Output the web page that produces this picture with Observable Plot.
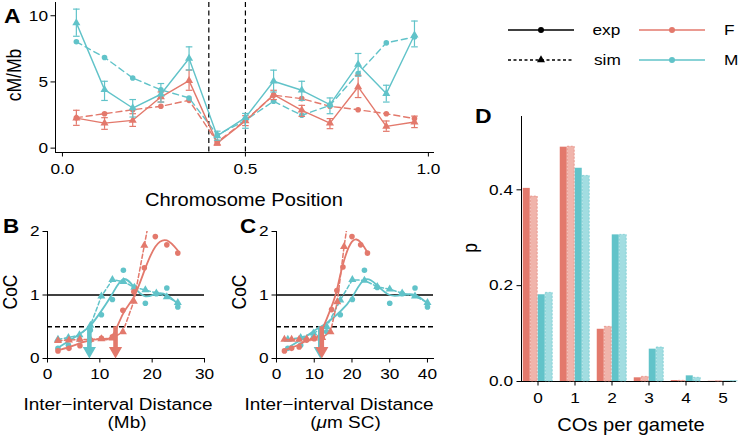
<!DOCTYPE html>
<html><head><meta charset="utf-8">
<script src="https://cdn.jsdelivr.net/npm/d3@7"></script>
<script src="https://cdn.jsdelivr.net/npm/@observablehq/plot@0.6"></script>
<style>
body{margin:0;background:#fff}
#root{position:relative;width:742px;height:439px;overflow:hidden;background:#fff}
#root svg{position:absolute;left:0;top:0}
</style>
</head><body><div id="root"></div>
<script>
// ---------- colours / type ----------
const RED = "#E3796C", CYAN = "#61C3C9", RED_L = "#F0B4AB", CYAN_L = "#A2DDE1";
const FONT = "'Liberation Sans', Arial, Helvetica, sans-serif";
const S = 1.15; // horizontal stretch of the original figure's text

// ---------- Panel A: recombination rate along the chromosome ----------
const posA = [0.038,0.115,0.192,0.269,0.346,0.423,0.5,0.577,0.654,0.731,0.808,0.885,0.962];
const A_M_exp    = [9.46,4.42,3.03,4.07,6.77,0.92,2.30,5.05,4.37,3.29,6.32,4.12,8.54];
const A_M_exp_lo = [8.45,3.60,2.35,3.48,5.90,0.60,1.50,4.24,3.61,2.60,5.43,3.48,7.65];
const A_M_exp_hi = [10.5,5.05,3.67,4.88,7.65,1.28,2.62,5.89,5.05,3.79,7.15,4.75,9.60];
const A_F_exp    = [2.27,1.89,2.10,3.86,5.10,0.38,2.05,4.04,2.86,1.89,4.62,1.64,1.97];
const A_F_exp_lo = [1.72,1.42,1.64,3.48,4.37,0.22,1.70,3.67,2.40,1.47,3.82,1.27,1.55];
const A_F_exp_hi = [2.86,2.30,2.60,4.24,5.90,0.55,2.45,4.37,3.23,2.23,5.50,2.05,2.42];
const A_M_sim    = [8.03,6.85,5.30,4.40,3.79,1.00,2.10,3.54,2.48,3.23,5.64,7.95,8.40];
const A_F_sim    = [2.30,2.60,2.90,3.16,3.61,0.45,2.10,4.00,3.74,3.16,2.90,2.60,2.23];
const refA = [0.4, 0.5];

// ---------- Panel B: CoC vs inter-interval distance (Mb) ----------
const B_F_x   = [2.0,4.1,6.2,8.2,10.3,12.4,14.4,16.5,18.5,20.6,22.8,24.9];
const B_F_exp = [0.12,0.16,0.20,0.29,0.32,0.34,0.76,1.05,1.43,1.92,1.79,1.66];
const B_F_fit = [0.13,0.18,0.24,0.29,0.30,0.36,0.70,0.97,1.38,1.76,1.86,1.70];
const B_F_simx = [2.0,4.1,6.2,8.2,10.3,12.4,14.4,16.5,18.5,20.6];
const B_F_sim  = [0.28,0.29,0.30,0.30,0.31,0.32,0.42,0.90,1.78,2.70];
const B_M_x   = [2.0,4.0,6.1,8.2,10.3,12.4,14.5,16.6,18.7,20.8,22.8,24.9];
const B_M_exp = [0.16,0.21,0.30,0.45,0.69,0.93,1.39,1.12,0.87,1.02,1.11,0.81];
const B_M_fit = [0.17,0.27,0.38,0.52,0.75,1.02,1.25,1.12,0.98,1.02,1.00,0.86];
const B_M_sim = [0.30,0.33,0.37,0.52,0.98,1.24,1.21,1.12,1.08,1.03,0.97,0.88];
const B_arrowX = {M: 8, F: 13};

// ---------- Panel C: CoC vs inter-interval distance (um SC) ----------
const C_F_x   = [2.1,4.0,6.0,8.0,10.0,12.1,14.6,16.0,17.6,20.0,22.3,24.1];
const C_F_exp = [0.12,0.16,0.18,0.29,0.31,0.33,0.77,1.07,1.44,1.92,1.79,1.66];
const C_F_fit = [0.13,0.17,0.22,0.28,0.31,0.46,0.82,1.08,1.48,1.84,1.83,1.67];
const C_F_simx = [2.1,4.0,6.0,8.0,10.0,12.1,14.3,16.1,17.9,20.0];
const C_F_sim  = [0.30,0.30,0.30,0.31,0.32,0.33,0.42,0.89,1.76,2.60];
const C_M_x   = [3.0,6.4,9.8,13.3,16.9,20.1,23.3,26.7,30.0,33.3,36.7,40.0];
const C_M_exp = [0.16,0.21,0.33,0.42,0.69,0.93,1.39,1.12,0.87,1.02,1.11,0.81];
const C_M_fit = [0.17,0.29,0.43,0.56,0.74,0.97,1.24,1.15,1.00,1.00,1.00,0.87];
const C_M_sim = [0.30,0.33,0.40,0.50,0.92,1.24,1.23,1.13,1.09,1.03,0.98,0.88];
const C_arrowX = {M: 11.6, F: 12.0};

// ---------- Panel D: COs per gamete ----------
const D_co    = [0,1,2,3,4,5];
const D_F_exp = [0.403,0.489,0.109,0.0077,0.0020,0.0005];
const D_F_sim = [0.386,0.490,0.114,0.0097,0.0014,0.0004];
const D_M_exp = [0.181,0.445,0.306,0.0675,0.0118,0.0008];
const D_M_sim = [0.185,0.429,0.306,0.0710,0.0077,0.0006];

// ---------- helpers ----------
const W = 742, H = 439;
const rows = (xs, ys, lo, hi) => xs.map((x, i) => ({x, y: ys[i], lo: lo ? lo[i] : undefined, hi: hi ? hi[i] : undefined}));
const hbar = {draw(ctx, size){ const r = Math.sqrt(size/Math.PI); ctx.moveTo(-r,0); ctx.lineTo(r,0); }};
const headDown = {draw(ctx, size){ const r = Math.sqrt(size/Math.PI); const w = r*1.35, h = r*2.33; ctx.moveTo(0,0); ctx.lineTo(-w,-h); ctx.lineTo(w,-h); ctx.closePath(); }};
const baseStyle = {background: "transparent", fontFamily: FONT, fontSize: "15px", color: "#000", overflow: "visible"};
const root = document.getElementById("root");
function stretch(svg){
  svg.querySelectorAll("text").forEach(t => {
    const tr = t.getAttribute("transform") || "";
    const xa = t.getAttribute("x"), ya = t.getAttribute("y");
    const x = xa == null ? 0 : Number(xa), y = ya == null ? 0 : Number(ya);
    if (Number.isFinite(x) && Number.isFinite(y)) {
      t.removeAttribute("x"); t.removeAttribute("y");
      t.setAttribute("transform", `${tr} translate(${x},${y}) scale(${S},1)`.trim());
    } else {
      t.setAttribute("transform", `${tr} scale(${S},1)`.trim());
    }
  });
  return svg;
}
function add(svg){ stretch(svg); root.appendChild(svg); }

// ---------- Panel A ----------
const aFexp = rows(posA, A_F_exp, A_F_exp_lo, A_F_exp_hi);
const aMexp = rows(posA, A_M_exp, A_M_exp_lo, A_M_exp_hi);
const aFsim = rows(posA, A_F_sim), aMsim = rows(posA, A_M_sim);
function expMarks(data, color){
  return [
    Plot.ruleX(data, {x: "x", y1: "lo", y2: "hi", stroke: color, strokeWidth: 1.2}),
    Plot.dot(data, {x: "x", y: "lo", symbol: hbar, r: 3.3, stroke: color, fill: "none", strokeWidth: 1.2}),
    Plot.dot(data, {x: "x", y: "hi", symbol: hbar, r: 3.3, stroke: color, fill: "none", strokeWidth: 1.2}),
    Plot.line(data, {x: "x", y: "y", stroke: color, strokeWidth: 1.4}),
    Plot.dot(data, {x: "x", y: "y", symbol: "triangle", r: 3, fill: color, stroke: null})
  ];
}
add(Plot.plot({
  width: W, height: H, marginLeft: 55, marginRight: 309, marginTop: 2, marginBottom: 287,
  style: baseStyle,
  x: {domain: [-0.019, 1.014], ticks: [0, 0.5, 1], tickFormat: ".1f", tickSize: 4.5, tickPadding: 6, line: true, label: null},
  y: {domain: [-0.33, 11.0], ticks: [0, 5, 10], tickFormat: "d", tickSize: 4.5, tickPadding: 3, line: true, label: null},
  marks: [
    Plot.ruleX(refA, {stroke: "#000", strokeWidth: 1.2, strokeDasharray: "5,3.5"}),
    Plot.line(aFsim, {x: "x", y: "y", stroke: RED, strokeWidth: 1.4, strokeDasharray: "6,4"}),
    Plot.dot(aFsim, {x: "x", y: "y", r: 2.8, fill: RED, stroke: null}),
    Plot.line(aMsim, {x: "x", y: "y", stroke: CYAN, strokeWidth: 1.4, strokeDasharray: "6,4"}),
    Plot.dot(aMsim, {x: "x", y: "y", r: 2.8, fill: CYAN, stroke: null}),
    ...expMarks(aFexp, RED),
    ...expMarks(aMexp, CYAN)
  ]
}));

// ---------- Panels B & C ----------
function cocPanel(opts){
  const {ml, mr, xdom, xticks, Fx, Fexp, Ffit, Fsx, Fsim, Mx, Mexp, Mfit, Msx, Msim, arrows} = opts;
  const arrowRows = [{x: arrows.M, c: CYAN}, {x: arrows.F, c: RED}];
  const series = (xs, exp, fit, sx, sim, color) => [
    Plot.line(rows(sx, sim), {x: "x", y: "y", stroke: color, strokeWidth: 1.5, strokeDasharray: "4,2.5", clip: true}),
    Plot.dot(rows(sx, sim), {x: "x", y: "y", symbol: "triangle", r: 3, fill: color, stroke: null, clip: true}),
    Plot.line(rows(xs, fit), {x: "x", y: "y", stroke: color, strokeWidth: 1.8, curve: "natural"}),
    Plot.dot(rows(xs, exp), {x: "x", y: "y", r: 2.8, fill: color, stroke: null})
  ];
  return Plot.plot({
    width: W, height: H, marginLeft: ml, marginRight: mr, marginTop: 231, marginBottom: 81,
    style: baseStyle,
    x: {domain: xdom, ticks: xticks, tickFormat: "d", tickSize: 4.5, tickPadding: 5.5, line: true, label: null},
    y: {domain: [0, 2], ticks: [0, 1, 2], tickFormat: "d", tickSize: 4.5, tickPadding: 3.5, line: true, label: null},
    marks: [
      Plot.ruleY([1], {stroke: "#000", strokeWidth: 1.3}),
      Plot.ruleY([0.5], {stroke: "#000", strokeWidth: 1.3, strokeDasharray: "5,3"}),
      ...series(Mx, Mexp, Mfit, Msx, Msim, CYAN),
      ...series(Fx, Fexp, Ffit, Fsx, Fsim, RED),
      Plot.ruleX(arrowRows, {x: "x", y1: 0.5, y2: 0, stroke: "c", strokeWidth: 4.6, insetBottom: 7}),
      Plot.dot(arrowRows, {x: "x", y: 0, symbol: headDown, r: 4.9, fill: "c", stroke: null})
    ]
  });
}
add(cocPanel({ml: 47, mr: 538, xdom: [0, 30], xticks: [0, 10, 20, 30],
  Fx: B_F_x, Fexp: B_F_exp, Ffit: B_F_fit, Fsx: B_F_simx, Fsim: B_F_sim,
  Mx: B_M_x, Mexp: B_M_exp, Mfit: B_M_fit, Msx: B_M_x, Msim: B_M_sim, arrows: B_arrowX}));
add(cocPanel({ml: 276, mr: 309, xdom: [0, 41.6], xticks: [0, 10, 20, 30, 40],
  Fx: C_F_x, Fexp: C_F_exp, Ffit: C_F_fit, Fsx: C_F_simx, Fsim: C_F_sim,
  Mx: C_M_x, Mexp: C_M_exp, Mfit: C_M_fit, Msx: C_M_x, Msim: C_M_sim, arrows: C_arrowX}));

// ---------- Panel D ----------
const dRows = ys => D_co.map((c, i) => ({co: c, p: ys[i]}));
const bw = 7.5, band = 37.5, off = (band - 4*bw)/2;
const bar = (ys, k, fill, dashStroke) => Plot.barY(dRows(ys), {
  x: "co", y: "p", fill, insetLeft: off + k*bw, insetRight: band - off - (k+1)*bw,
  stroke: dashStroke || null, strokeWidth: dashStroke ? 0.6 : 0, strokeDasharray: dashStroke ? "2,1.5" : null
});
add(Plot.plot({
  width: W, height: H, marginLeft: 521, marginRight: 7, marginTop: 116, marginBottom: 58,
  style: baseStyle,
  x: {type: "band", domain: D_co, range: [516.95, 742.05], padding: 0, tickSize: 4.5, tickPadding: 6.5, line: true, label: null},
  y: {domain: [0, 0.553], ticks: [0, 0.2, 0.4], tickFormat: ".1f", tickSize: 4.5, tickPadding: 4, line: true, label: null},
  marks: [
    bar(D_F_exp, 0, RED),
    bar(D_F_sim, 1, RED_L, RED),
    bar(D_M_exp, 2, CYAN),
    bar(D_M_sim, 3, CYAN_L, CYAN)
  ]
}));

// ---------- overlay: titles, panel letters, legend ----------
const ov = d3.create("svg").attr("width", W).attr("height", H)
  .style("font-family", FONT).style("overflow", "visible");
function txt(s, x, y, {size = 17.5, anchor = "middle", weight = "normal", rotate = 0, dy = "0"} = {}){
  const t = ov.append("text")
    .attr("transform", `translate(${x},${y}) scale(${S},1)${rotate ? ` rotate(${rotate})` : ""}`)
    .attr("text-anchor", anchor).attr("font-size", size).attr("font-weight", weight).attr("dy", dy)
    .attr("fill", "#000");
  return t.text(s);
}
txt("A", 4, 23, {size: 20, anchor: "start", weight: "bold"});
txt("B", 3, 233, {size: 19.5, anchor: "start", weight: "bold"});
txt("C", 240, 233, {size: 19.5, anchor: "start", weight: "bold"});
txt("D", 475, 123, {size: 20, anchor: "start", weight: "bold"});
txt("cM/Mb", 14, 75, {rotate: -90, dy: "0.35em"});
txt("Chromosome Position", 244, 206);
txt("CoC", 10, 292, {rotate: -90, dy: "0.35em"});
txt("CoC", 239, 292, {rotate: -90, dy: "0.35em"});
txt("Inter\u2212interval Distance", 118, 409.5, {size: 16.5});
txt("Inter\u2212interval Distance", 339, 409.5, {size: 16.5});
txt("(Mb)", 127, 428, {size: 16.5});
const mu = txt("", 345.5, 428, {size: 16.5});
mu.append("tspan").text("(");
mu.append("tspan").attr("font-style", "italic").text("\u03bc");
mu.append("tspan").text("m SC)");
txt("p", 470, 248, {rotate: -90, dy: "0.35em"});
txt("COs per gamete", 631, 431);

// legend
const lg = ov.append("g");
function legendRow(y, color, dash, marker, x1, x2){
  lg.append("line").attr("x1", x1).attr("x2", x2).attr("y1", y).attr("y2", y)
    .attr("stroke", color).attr("stroke-width", 1.3).attr("stroke-dasharray", dash);
  const cx = (x1 + x2) / 2;
  if (marker === "circle") lg.append("circle").attr("cx", cx).attr("cy", y).attr("r", 3).attr("fill", color);
  else lg.append("path").attr("d", d3.symbol(d3.symbolTriangle, Math.PI*9)()).attr("transform", `translate(${cx},${y})`).attr("fill", color);
}
legendRow(30, "#000", null, "circle", 508, 574);
legendRow(60, "#000", "3,2.5", "triangle", 508, 574);
legendRow(30, RED, null, "circle", 639, 705);
legendRow(60, CYAN, null, "circle", 639, 705);
txt("exp", 592.5, 30, {size: 15, anchor: "start", dy: "0.35em"});
txt("sim", 594, 60, {size: 15, anchor: "start", dy: "0.35em"});
txt("F", 724, 30, {size: 15, anchor: "start", dy: "0.35em"});
txt("M", 724, 60, {size: 15, anchor: "start", dy: "0.35em"});
root.appendChild(ov.node());
</script>
</body></html>
